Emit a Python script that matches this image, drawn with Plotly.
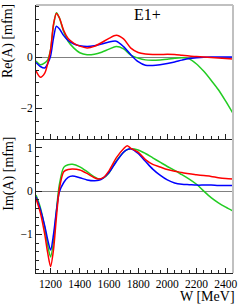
import plotly.graph_objects as go

# ---------------- data ----------------
W_re = [1100, 1130, 1160, 1180, 1200, 1220, 1240, 1260, 1290, 1320, 1360, 1400, 1450, 1500,
        1550, 1600, 1650, 1700, 1750, 1800, 1850, 1900, 1950, 2000, 2050, 2100, 2150, 2200,
        2250, 2300, 2350, 2400, 2450]
re_red = [-0.53, -0.78, -0.62, -0.25, 0.30, 1.30, 1.72, 1.55, 1.05, 0.74, 0.55, 0.44, 0.37, 0.43,
          0.58, 0.74, 0.86, 0.72, 0.36, 0.19, 0.13, 0.11, 0.11, 0.12, 0.11, 0.08, 0.05, 0.03,
          0.01, -0.01, -0.03, -0.05, -0.07]
re_blue = [-0.20, -0.36, -0.42, -0.25, 0.05, 0.75, 1.22, 1.12, 0.85, 0.66, 0.52, 0.45, 0.42, 0.45,
           0.52, 0.60, 0.63, 0.42, 0.10, -0.17, -0.31, -0.32, -0.29, -0.24, -0.18, -0.11, -0.05, -0.02,
           0.00, 0.01, 0.01, 0.01, 0.01]
re_green = [-0.14, -0.29, -0.22, -0.10, 0.30, 1.25, 1.75, 1.55, 1.00, 0.63, 0.36, 0.18, 0.10, 0.12,
            0.20, 0.32, 0.42, 0.33, 0.09, -0.03, -0.10, -0.11, -0.10, -0.08, -0.04, -0.02, -0.06, -0.26,
            -0.55, -0.90, -1.27, -1.72, -2.20]

W_im = [1100, 1130, 1160, 1180, 1200, 1220, 1240, 1260, 1290, 1320, 1350, 1400, 1450, 1500,
        1530, 1560, 1600, 1650, 1700, 1725, 1750, 1800, 1850, 1900, 1950, 2000, 2050, 2100,
        2150, 2200, 2250, 2300, 2350, 2400, 2450]
im_red = [-0.17, -0.50, -1.00, -1.42, -1.74, -1.35, -0.60, 0.05, 0.45, 0.50, 0.51, 0.49, 0.41, 0.31,
          0.28, 0.31, 0.47, 0.77, 0.98, 1.05, 0.99, 0.90, 0.73, 0.62, 0.56, 0.50, 0.46, 0.43,
          0.40, 0.38, 0.36, 0.34, 0.31, 0.29, 0.28]
im_blue = [-0.13, -0.42, -0.80, -1.12, -1.36, -1.00, -0.45, -0.02, 0.20, 0.32, 0.35, 0.31, 0.26, 0.24,
           0.25, 0.30, 0.43, 0.68, 0.90, 0.96, 0.98, 0.87, 0.69, 0.51, 0.37, 0.26, 0.19, 0.16,
           0.15, 0.14, 0.14, 0.14, 0.13, 0.13, 0.13]
im_green = [-0.09, -0.38, -0.85, -1.25, -1.52, -1.15, -0.45, 0.15, 0.55, 0.61, 0.62, 0.56, 0.45, 0.33,
            0.28, 0.30, 0.42, 0.70, 0.90, 0.96, 0.98, 0.95, 0.87, 0.77, 0.67, 0.57, 0.48, 0.38,
            0.28, 0.16, 0.00, -0.15, -0.27, -0.37, -0.46]

x_tickvals = [1200, 1400, 1600, 1800, 2000, 2200, 2400]
x_ticktext = ["1200", "1400", "1600", "1800", "2000", "2200", "2400"]
re_tickvals = [-2, 0]
re_ticktext = ["\u22122", "0"]
im_tickvals = [-1, 0, 1]
im_ticktext = ["\u22121", "0", "1"]

RED, BLUE, GREEN = "#ff0000", "#0000ff", "#22cc22"
FONT = "Liberation Serif, Times New Roman, serif"

fig = go.Figure()
for w, ys, c in [(W_re, re_green, GREEN), (W_re, re_blue, BLUE), (W_re, re_red, RED)]:
    fig.add_trace(go.Scatter(x=w, y=ys, mode="lines", xaxis="x2", yaxis="y2",
                             line=dict(color=c, width=1.5, shape="spline", smoothing=0.8),
                             showlegend=False, hoverinfo="skip"))
for w, ys, c in [(W_im, im_green, GREEN), (W_im, im_blue, BLUE), (W_im, im_red, RED)]:
    fig.add_trace(go.Scatter(x=w, y=ys, mode="lines", xaxis="x", yaxis="y",
                             line=dict(color=c, width=1.5, shape="spline", smoothing=0.8),
                             showlegend=False, hoverinfo="skip"))

axis_common = dict(showgrid=False, showline=True, linecolor="#222222", linewidth=1,
                   ticks="inside", tickcolor="#222222", tickwidth=1,
                   tickfont=dict(family=FONT, size=11.5, color="black"))

fig.update_layout(
    width=242, height=304,
    margin=dict(l=36, r=5, t=5, b=31),
    paper_bgcolor="white", plot_bgcolor="white",
    font=dict(family=FONT, size=12, color="black"),
    xaxis=dict(**axis_common, domain=[0, 1], anchor="y", range=[1100, 2450],
               tickvals=x_tickvals, ticktext=x_ticktext, ticklen=5,
               minor=dict(dtick=50, tick0=1100, ticks="inside", ticklen=3, tickcolor="#222222"),
               zeroline=False),
    xaxis2=dict(**axis_common, domain=[0, 1], anchor="y2", range=[1100, 2450], matches="x",
                tickvals=x_tickvals, showticklabels=False, ticklen=5,
                minor=dict(dtick=50, tick0=1100, ticks="inside", ticklen=3, tickcolor="#222222"),
                zeroline=False),
    yaxis=dict(**axis_common, domain=[0, 0.496], anchor="x", range=[-1.89, 1.18],
               tickvals=im_tickvals, ticktext=im_ticktext, ticklen=6,
               minor=dict(dtick=0.2, tick0=0, ticks="inside", ticklen=3, tickcolor="#222222"),
               zeroline=True, zerolinecolor="#808080", zerolinewidth=1),
    yaxis2=dict(**axis_common, domain=[0.5, 1], anchor="x2", range=[-3.2, 2.05],
                tickvals=re_tickvals, ticktext=re_ticktext, ticklen=6,
                minor=dict(dtick=0.5, tick0=0, ticks="inside", ticklen=3, tickcolor="#222222"),
                zeroline=True, zerolinecolor="#808080", zerolinewidth=1),
    shapes=[
        dict(type="line", xref="paper", yref="paper", x0=0, x1=1, y0=1, y1=1,
             line=dict(color="#c0c0c0", width=2)),
        dict(type="line", xref="paper", yref="paper", x0=1, x1=1, y0=0, y1=1,
             line=dict(color="#c0c0c0", width=2)),
    ],
    annotations=[
        dict(text="E1+", xref="paper", yref="paper", x=0.567, y=0.966, showarrow=False,
             xanchor="center", yanchor="middle", font=dict(family=FONT, size=16, color="black")),
        dict(text="Re(A) [mfm]", xref="paper", yref="paper", x=-0.139, y=0.864, textangle=-90,
             showarrow=False, xanchor="center", yanchor="middle",
             font=dict(family=FONT, size=14, color="black")),
        dict(text="Im(A) [mfm]", xref="paper", yref="paper", x=-0.139, y=0.369, textangle=-90,
             showarrow=False, xanchor="center", yanchor="middle",
             font=dict(family=FONT, size=14, color="black")),
        dict(text="W [MeV]", xref="paper", yref="paper", x=1.017, y=-0.088, showarrow=False,
             xanchor="right", yanchor="middle", borderpad=0,
             font=dict(family=FONT, size=14, color="black")),
    ],
)

fig.write_html("out.html", config={"displayModeBar": False},
               post_script="document.body.style.margin='0';document.body.style.overflow='hidden';")
